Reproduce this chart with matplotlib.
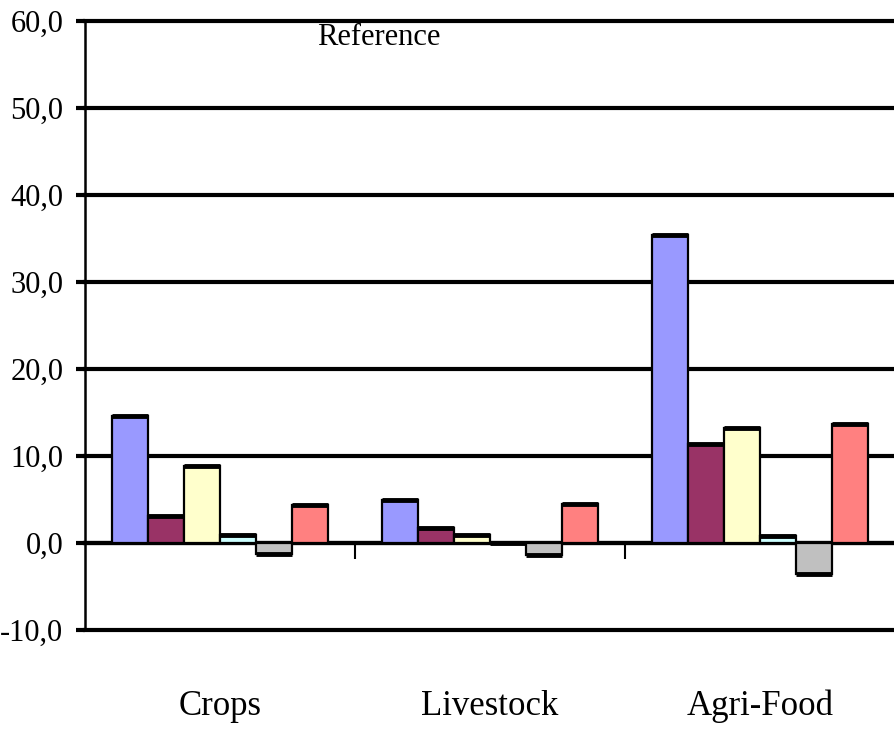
import numpy as np
import matplotlib
matplotlib.use("Agg")
import matplotlib.pyplot as plt

categories = ["Crops", "Livestock", "Agri-Food"]
series_colors = ["#9999FF", "#993366", "#FFFFCC", "#CCFFFF", "#C0C0C0", "#FF8080"]
# one array per series, values for Crops / Livestock / Agri-Food
s1 = [14.6, 4.9, 35.4]
s2 = [3.1, 1.7, 11.4]
s3 = [8.8, 0.9, 13.2]
s4 = [0.9, 0.0, 0.8]
s5 = [-1.3, -1.4, -3.6]
s6 = [4.4, 4.5, 13.7]
series = [s1, s2, s3, s4, s5, s6]
yticks = [-10, 0, 10, 20, 30, 40, 50, 60]
ytick_labels = ["-10,0", "0,0", "10,0", "20,0", "30,0", "40,0", "50,0", "60,0"]

font = "Liberation Serif"

fig = plt.figure(figsize=(8.95, 7.32), dpi=100)
ax = fig.add_axes([0.095, 0.1393, 0.905, 0.8320])

x = np.arange(len(categories))
n = len(series)
w = 0.8 / n
for j, vals in enumerate(series):
    pos = x + (j - (n - 1) / 2) * w
    ax.bar(pos, vals, width=w, color=series_colors[j], edgecolor="black",
           linewidth=1.6, zorder=3)
    # thicker edge on the value side of the bar
    ax.hlines(vals, pos - w / 2, pos + w / 2, color="black", linewidth=3.5, zorder=4)

ax.set_ylim(-10, 60)
ax.set_xlim(-0.5, len(categories) - 0.5)
ax.set_yticks(yticks)
ax.set_yticklabels(ytick_labels, fontfamily=font, fontsize=22)
ax.yaxis.grid(True, color="black", linewidth=3)
for gl in ax.get_ygridlines():
    gl.set_clip_on(False)
ax.set_axisbelow(True)

ax.spines["top"].set_visible(False)
ax.spines["right"].set_visible(False)
ax.spines["bottom"].set_position(("data", 0))
ax.spines["bottom"].set_linewidth(3)
ax.spines["left"].set_linewidth(1.8)
ax.tick_params(axis="y", direction="out", length=6.5, width=3, pad=9)

# category separators below the zero line
ax.set_xticks(x[1:] - 0.5)
ax.set_xticklabels([])
ax.tick_params(axis="x", direction="out", length=11.5, width=1.5)

trans = matplotlib.transforms.blended_transform_factory(ax.transData, ax.transAxes)
for i, c in enumerate(categories):
    ax.text(x[i], -0.125, c, transform=trans, ha="center", va="center",
            fontfamily=font, fontsize=25)

ax.text(0.287, 0.973, "Reference", transform=ax.transAxes, ha="left", va="center",
        fontfamily=font, fontsize=22)

fig.savefig("out.png", dpi=100)
